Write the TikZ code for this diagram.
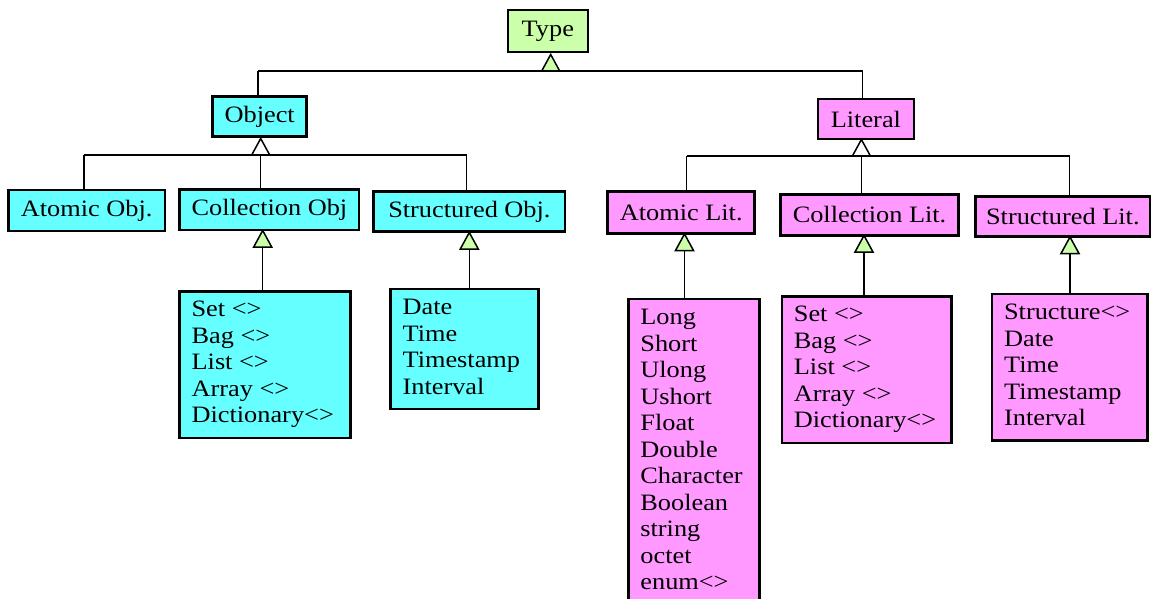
\documentclass[tikz,border=0pt]{standalone}
\usepackage{fontspec}
\setmainfont{Liberation Serif}[FakeStretch=1.12]
\usetikzlibrary{calc}
\definecolor{objfill}{RGB}{102,255,255}
\definecolor{litfill}{RGB}{255,153,255}
\definecolor{topfill}{RGB}{204,255,170}
% a fixed-size block of left-aligned entries
\newcommand\entrylist[3]{\parbox[t][#2][t]{#1}{\vspace*{7pt}\raggedright\strut#3}}
\tikzset{
  box/.style={draw=black, line width=2.6pt, inner sep=0pt},
  headbox/.style={box, font=\fontsize{23.5}{28}\selectfont},
  listbox/.style={box, anchor=north west, inner xsep=12pt, inner ysep=0pt,
                  font=\fontsize{23.5}{26.5}\selectfont},
  bus/.style={line width=1.4pt},
  gentri/.pic={\path[draw=black, line width=1.5pt, line join=miter, pic actions]
               (0,0) -- (-9,16.5) -- (9,16.5) -- cycle;}
}
\begin{document}
\begin{tikzpicture}[x=1pt,y=-1pt]
\path[use as bounding box, clip] (0,0) rectangle (1152,599);

% ---- class boxes ----
\node[headbox, fill=topfill, minimum width=80pt, minimum height=42pt] (type) at (547.8,31) {Type};
\node[headbox, fill=objfill, minimum width=94pt, minimum height=40pt] (object) at (259.7,116.7) {Object};
\node[headbox, fill=litfill, minimum width=96pt, minimum height=40pt] (literal) at (865.9,119) {Literal};

\node[headbox, fill=objfill, minimum width=156.7pt, minimum height=41pt] (aobj) at (86.7,210.5) {Atomic Obj.};
\node[headbox, fill=objfill, minimum width=179.3pt, minimum height=40.3pt] (cobj) at (269.4,209.9) {Collection Obj};
\node[headbox, fill=objfill, minimum width=191.3pt, minimum height=40pt] (sobj) at (469.4,211.7) {Structured Obj.};

\node[headbox, fill=litfill, minimum width=146.9pt, minimum height=41.6pt] (alit) at (681.2,212.5) {Atomic Lit.};
\node[headbox, fill=litfill, minimum width=177.9pt, minimum height=40.6pt] (clit) at (869.5,215) {Collection Lit.};
\node[headbox, fill=litfill, minimum width=174.4pt, minimum height=40pt] (slit) at (1062.8,216.7) {Structured Lit.};

% ---- member lists ----
\node[listbox, fill=objfill] (cobjL) at (178.3,290)
  {\entrylist{146.7pt}{146.7pt}{Set <>\\ Bag <>\\ List <>\\ Array <>\\ Dictionary<>}};
\node[listbox, fill=objfill] (sobjL) at (389.3,287.7)
  {\entrylist{124pt}{120pt}{Date\\ Time\\ Timestamp\\ Interval}};
\node[listbox, fill=litfill] (alitL) at (627.1,297.7)
  {\entrylist{107pt}{315pt}{Long\\ Short\\ Ulong\\ Ushort\\ Float\\ Double\\ Character\\ Boolean\\ string\\ octet\\ enum<>}};
\node[listbox, fill=litfill] (clitL) at (780.6,295)
  {\entrylist{145.8pt}{146.7pt}{Set <>\\ Bag <>\\ List <>\\ Array <>\\ Dictionary<>}};
\node[listbox, fill=litfill] (slitL) at (990.8,292.7)
  {\entrylist{131.3pt}{146.3pt}{Structure<>\\ Date\\ Time\\ Timestamp\\ Interval}};

% ---- junction points ----
\coordinate (typeB)  at (550.7,71);
\coordinate (topL)   at (258,71);
\coordinate (topR)   at (862.7,71);
\coordinate (objB)   at (260.7,155);
\coordinate (objL)   at (84,155);
\coordinate (objR)   at (466.7,155);
\coordinate (litB)   at (861.4,156);
\coordinate (litL)   at (686.5,156);
\coordinate (litR)   at (1069.7,156);
\coordinate (cobjB)  at (262.7,247);
\coordinate (sobjB)  at (469.3,249);
\coordinate (alitB)  at (684.5,250.5);
\coordinate (clitB)  at (864,252);
\coordinate (slitB)  at (1070,253.5);

% ---- generalisation buses ----
\draw[bus] (topL) -- (topR);
\draw[bus] (topL) -- (topL |- object.north);
\draw[bus] (topR) -- (topR |- literal.north);

\draw[bus] (objL) -- (objR);
\draw[bus] (objL) -- (objL |- aobj.north);
\draw[bus] (objB) -- (objB |- cobj.north);
\draw[bus] (objR) -- (objR |- sobj.north);

\draw[bus] (litL) -- (litR);
\draw[bus] (litL) -- (litL |- alit.north);
\draw[bus] (litB) -- (litB |- clit.north);
\draw[bus] (litR) -- (litR |- slit.north);

\draw[bus] (cobjB) -- (cobjB |- cobjL.north);
\draw[bus] (sobjB) -- (sobjB |- sobjL.north);
\draw[bus] (alitB) -- (alitB |- alitL.north);
\draw[bus] (clitB) -- (clitB |- clitL.north);
\draw[bus] (slitB) -- (slitB |- slitL.north);

% ---- inheritance triangles ----
\pic[fill=topfill] at ($(typeB)+(0,-16.5)$) {gentri};
\pic[fill=white]   at ($(objB)+(0,-16.5)$) {gentri};
\pic[fill=white]   at ($(litB)+(0,-16.5)$) {gentri};
\pic[fill=topfill] at ($(cobjB)+(0,-16.5)$) {gentri};
\pic[fill=topfill] at ($(sobjB)+(0,-16.5)$) {gentri};
\pic[fill=topfill] at ($(alitB)+(0,-16.5)$) {gentri};
\pic[fill=topfill] at ($(clitB)+(0,-16.5)$) {gentri};
\pic[fill=topfill] at ($(slitB)+(0,-16.5)$) {gentri};
\end{tikzpicture}
\end{document}
